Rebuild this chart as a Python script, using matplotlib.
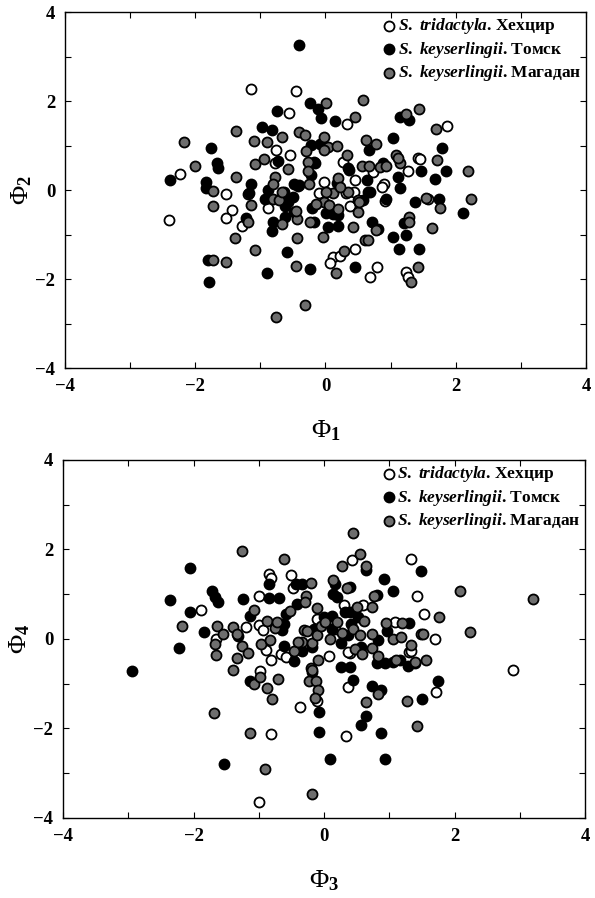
import numpy as np
import matplotlib
matplotlib.use("Agg")
import matplotlib.pyplot as plt
from matplotlib.ticker import MultipleLocator

plt.rcParams['font.family'] = ['Liberation Serif', 'DejaVu Serif']
plt.rcParams['font.weight'] = 'bold'
plt.rcParams['mathtext.fontset'] = 'custom'
plt.rcParams['mathtext.it'] = 'Liberation Serif:italic:bold'
plt.rcParams['mathtext.rm'] = 'Liberation Serif:bold'
plt.rcParams['mathtext.bf'] = 'Liberation Serif:bold'

labels = [r'$\mathit{S.}$ $\mathit{tridactyla}$. Хехцир',
          r'$\mathit{S.}$ $\mathit{keyserlingii}$. Томск',
          r'$\mathit{S.}$ $\mathit{keyserlingii}$. Магадан']

# ---- panel 1: F1 vs F2 ----
tri_12 = [(-1.14, 2.28), (-0.46, 2.23), (-0.56, 1.72), (0.33, 1.48), (1.87, 1.44), (-0.76, 0.91),
          (-0.55, 0.79), (1.42, 0.71), (-0.78, 0.60), (0.27, 0.64), (0.73, 0.41), (1.27, 0.43),
          (-2.23, 0.35), (-1.52, -0.09), (-1.19, -0.10), (-1.43, -0.46), (-1.52, -0.64), (-2.41, -0.67),
          (-1.28, -0.81), (0.11, -1.50), (0.07, -1.65), (0.23, -1.48), (0.45, -1.33), (0.68, -1.96),
          (0.79, -1.74), (1.24, -1.84), (1.27, -1.96), (1.57, -0.20), (0.90, 0.13), (0.87, 0.06),
          (0.92, -0.25), (0.38, -0.36), (0.44, -0.04), (0.45, 0.22), (-0.02, 0.17), (-0.10, -0.06),
          (0.32, -0.06), (-0.88, -0.40), (1.45, 0.70)]
tom_12 = [(-0.41, 3.27), (-0.23, 1.95), (-0.12, 1.83), (-0.75, 1.78), (-0.07, 1.61), (0.14, 1.55),
          (1.15, 1.65), (1.28, 1.57), (-0.98, 1.41), (-0.82, 1.36), (-1.76, 0.95), (1.04, 1.18),
          (0.67, 0.91), (1.79, 0.94), (-0.22, 1.01), (-0.09, 1.03), (-1.67, 0.61), (-1.65, 0.49),
          (-0.16, 0.60), (0.36, 0.45), (0.88, 0.60), (1.46, 0.43), (1.85, 0.43), (-2.39, 0.22),
          (-1.84, 0.19), (-1.83, 0.04), (-1.14, 0.13), (-1.17, -0.07), (-1.22, -0.64), (-1.80, -1.57),
          (-1.79, -2.06), (-0.90, -1.87), (-0.23, -1.78), (-0.59, -1.39), (0.46, -1.72), (1.04, -1.06),
          (1.13, -1.33), (1.44, -1.33), (1.23, -1.01), (1.20, -0.75), (0.80, -0.88), (0.71, -0.71),
          (2.11, -0.52), (1.74, -0.20), (1.38, -0.26), (1.68, 0.25), (1.15, 0.04), (1.11, 0.30),
          (0.93, -0.20), (0.65, -0.05), (0.64, 0.22), (0.57, -0.22), (0.18, 0.15), (0.01, -0.52),
          (0.11, -0.55), (0.04, -0.82), (0.19, -0.80), (-0.18, -0.71), (-0.49, -0.49), (-0.62, -0.60),
          (-0.82, -0.92), (-0.81, -0.71), (-0.93, -0.20), (-0.50, -0.15), (-0.62, -0.35), (-0.49, 0.13),
          (-0.40, 0.11), (-0.22, 0.34), (-0.63, -0.04), (-0.58, -0.26), (-0.20, -0.41), (0.19, -0.56),
          (-0.17, 0.64), (0.34, 0.49), (0.68, -0.04), (-0.42, 0.10), (-0.73, 0.65), (-0.89, 0.00)]
mag_12 = [(0.01, 1.96), (0.58, 2.02), (0.46, 1.65), (1.24, 1.71), (1.44, 1.81), (1.69, 1.37),
          (-1.37, 1.33), (-0.67, 1.20), (-0.41, 1.31), (-0.32, 1.24), (-0.02, 1.20), (-1.09, 1.11),
          (-0.90, 1.08), (-2.17, 1.08), (0.63, 1.12), (0.78, 1.03), (0.04, 0.97), (0.17, 0.99),
          (-0.30, 0.88), (0.33, 0.79), (1.08, 0.79), (1.71, 0.67), (-1.08, 0.58), (-0.94, 0.69),
          (-2.00, 0.55), (-0.58, 0.47), (-0.27, 0.64), (0.56, 0.55), (0.67, 0.54), (0.83, 0.52),
          (0.93, 0.55), (1.14, 0.60), (2.19, 0.43), (-1.72, -0.02), (-1.37, 0.30), (-1.15, -0.34),
          (-1.72, -0.36), (-1.19, -0.71), (-1.39, -1.07), (-1.08, -1.35), (-1.72, -1.57), (-1.53, -1.61),
          (-0.45, -1.70), (-0.31, -2.59), (-0.76, -2.85), (-0.44, -1.08), (-0.04, -1.06), (0.29, -1.36),
          (0.16, -1.87), (0.60, -1.12), (0.66, -1.12), (1.31, -2.06), (1.42, -1.72), (1.29, -0.61),
          (1.28, -0.72), (1.63, -0.86), (0.78, -0.90), (2.23, -0.21), (1.76, -0.41), (1.55, -0.17),
          (0.50, -0.22), (0.50, -0.49), (0.42, -0.84), (0.11, -0.07), (0.20, 0.26), (-0.03, -0.28),
          (0.06, -0.34), (0.20, -0.43), (0.35, -0.05), (-0.14, -0.32), (-0.23, -0.71), (-0.43, -0.65),
          (-0.46, -0.48), (-0.67, -0.76), (-0.81, -0.20), (-0.72, -0.22), (-0.66, -0.04), (-0.77, 0.30),
          (-0.81, 0.14), (-0.25, 0.13), (-0.27, 0.42), (-0.02, 0.90), (0.22, 0.07), (0.01, -0.04),
          (0.52, -0.26), (1.12, 0.71)]

# ---- panel 2: F3 vs F4 ----
tri_34 = [(2.89, -0.69), (0.43, 1.77), (1.33, 1.79), (-0.85, 1.46), (-0.81, 1.36), (-0.50, 1.42),
          (-0.48, 1.15), (1.42, 0.95), (-1.88, 0.64), (-0.99, 0.97), (0.31, 0.75), (0.60, 0.75),
          (1.53, 0.56), (-1.65, -0.01), (-1.19, 0.26), (-0.99, 0.32), (-0.93, 0.21), (-0.89, -0.25),
          (-0.81, -0.48), (-0.66, -0.33), (-0.58, -0.40), (0.08, -0.39), (-0.11, -1.39), (-0.37, -1.52),
          (-0.81, -2.13), (-1.00, -3.64), (0.34, -2.17), (1.72, -1.19), (0.37, -1.07), (0.40, -0.32),
          (1.09, 0.38), (1.31, -0.29), (1.70, -0.01), (-0.98, -0.72), (-0.11, 0.45), (0.17, 0.23),
          (1.34, -0.26), (0.37, -0.29)]
tom_34 = [(-2.95, -0.72), (-2.06, 1.59), (0.64, 1.53), (1.48, 1.51), (-0.84, 1.22), (-0.43, 1.22),
          (-0.33, 1.22), (0.17, 1.22), (0.40, 1.17), (0.92, 1.33), (1.05, 1.08), (0.81, 0.99),
          (-2.36, 0.87), (-1.71, 1.08), (-1.67, 0.93), (-1.63, 0.83), (-2.06, 0.61), (-1.24, 0.90),
          (-0.85, 0.91), (-0.69, 0.91), (-0.42, 0.79), (-0.59, 0.56), (0.40, 0.60), (0.52, 0.48),
          (-1.84, 0.15), (-2.22, -0.20), (-1.32, 0.06), (-0.65, 0.19), (-0.62, 0.33), (-0.62, -0.15),
          (-0.46, -0.50), (-0.33, -0.27), (-0.16, 0.23), (0.00, 0.49), (-0.18, -0.73), (-0.08, -1.63),
          (-0.08, -2.08), (-1.53, -2.80), (0.09, -2.69), (0.94, -2.69), (0.57, -1.93), (0.65, -1.71),
          (0.88, -2.10), (1.50, -1.35), (1.75, -0.94), (0.87, -1.14), (0.74, -1.05), (0.45, -0.91),
          (0.26, -0.63), (0.40, -0.63), (0.26, -0.09), (0.37, 0.08), (0.57, -0.18), (0.83, -0.03),
          (0.81, -0.53), (0.93, -0.53), (1.06, -0.52), (1.29, -0.61), (1.31, 0.35), (0.96, 0.17),
          (0.13, 0.23), (0.14, 1.01), (-1.14, 0.52), (-1.14, -0.95), (0.20, 0.93), (0.12, 0.52),
          (0.32, 0.60), (0.41, 0.34), (-0.19, -0.18), (1.17, -0.48), (1.40, -0.53)]
mag_34 = [(3.20, 0.89), (2.09, 1.07), (2.24, 0.15), (0.44, 2.36), (-1.26, 1.96), (-0.62, 1.79),
          (0.55, 1.90), (0.28, 1.62), (0.64, 1.62), (-0.20, 1.25), (0.14, 1.32), (0.36, 1.14),
          (0.77, 0.97), (-0.28, 0.95), (-0.29, 0.83), (-0.11, 0.69), (-0.52, 0.62), (0.50, 0.71),
          (0.74, 0.71), (1.77, 0.49), (-2.18, 0.29), (-1.64, 0.29), (-1.55, 0.12), (-1.67, -0.12),
          (-1.66, -0.35), (-1.39, 0.26), (-1.34, 0.12), (-1.26, -0.15), (-1.16, -0.31), (-1.34, -0.42),
          (-1.39, -0.70), (-0.88, 0.41), (-0.75, 0.24), (-0.72, 0.37), (-0.97, -0.12), (-0.83, -0.03),
          (-0.46, -0.26), (-0.33, -0.06), (-0.18, -0.09), (-0.31, 0.20), (-0.26, 0.18), (-0.11, 0.08),
          (-0.04, 0.29), (0.02, 0.37), (0.09, 0.00), (-0.09, -0.46), (-0.20, -0.64), (-0.23, -0.94),
          (-0.12, -0.94), (-0.09, -1.13), (-0.14, -1.31), (-1.69, -1.66), (-1.14, -2.09), (-0.90, -2.90),
          (-0.18, -3.47), (1.42, -1.95), (0.64, -1.41), (1.27, -1.39), (1.56, -0.46), (0.82, -1.24),
          (0.28, 0.14), (0.45, 0.23), (0.55, 0.08), (0.74, -0.20), (0.82, -0.37), (1.11, -0.47),
          (1.40, -0.52), (0.95, 0.35), (1.20, 0.35), (1.05, 0.01), (1.18, 0.04), (1.34, -0.14),
          (1.49, 0.12), (0.74, 0.12), (0.61, 0.41), (0.20, 0.37), (-1.07, 0.64), (-1.08, -1.00),
          (-0.98, -0.86), (-0.88, -1.09), (-0.80, -1.34), (-0.70, -0.90), (1.51, 0.10), (-0.40, -0.07),
          (0.48, -0.22), (0.58, -0.33), (-0.19, -0.69)]

faces = ['white', 'black', '#6e6e6e']

fig = plt.figure(figsize=(5.95, 8.98), dpi=100)
ax1 = fig.add_axes([0.1092, 0.5902, 0.8756, 0.3964])
ax2 = fig.add_axes([0.1059, 0.0891, 0.8773, 0.3987])


def draw(ax, groups, xl, yl):
    handles = []
    for pts, fc, lab in zip(groups, faces, labels):
        arr = np.array(pts)
        h = ax.scatter(arr[:, 0], arr[:, 1], s=52, facecolor=fc, edgecolor='black',
                       linewidth=1.3, label=lab, zorder=3)
        handles.append(h)
    ax.set_xlim(-4, 4)
    ax.set_ylim(-4, 4)
    ax.xaxis.set_major_locator(MultipleLocator(2))
    ax.yaxis.set_major_locator(MultipleLocator(2))
    ax.xaxis.set_minor_locator(MultipleLocator(1))
    ax.yaxis.set_minor_locator(MultipleLocator(1))
    ax.tick_params(which='both', direction='in', top=True, right=True, length=4, width=0.8,
                   labelsize=13.5, pad=7)
    for sp in ax.spines.values():
        sp.set_linewidth(1.0)
    ax.set_xlabel(xl, fontsize=19, labelpad=17)
    ax.set_ylabel(yl, fontsize=19, labelpad=1)
    ax.legend(handles=handles, loc='upper right', frameon=False, fontsize=12.5,
              handletextpad=0.05, handlelength=0.9, labelspacing=0.2, borderpad=0.1,
              borderaxespad=0.15, scatterpoints=1)


draw(ax1, [tri_12, tom_12, mag_12], r'Φ$_\mathrm{1}$', r'Φ$_\mathrm{2}$')
draw(ax2, [tri_34, tom_34, mag_34], r'Φ$_\mathrm{3}$', r'Φ$_\mathrm{4}$')

fig.savefig('out.png', dpi=100)
